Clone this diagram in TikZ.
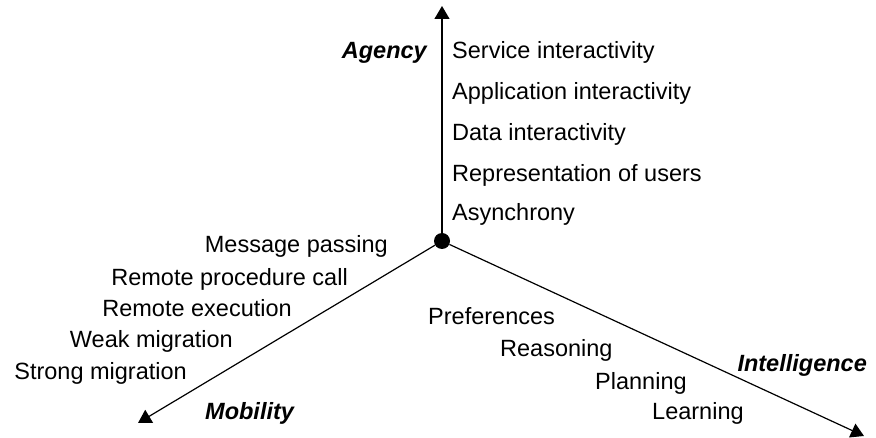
\documentclass[tikz,border=0pt]{standalone}
\usepackage{fontspec}
\setmainfont{Liberation Sans}
\usetikzlibrary{arrows.meta}
\tikzset{
  lbl/.style={inner sep=0pt, font=\fontsize{23.5}{27}\selectfont},
  axislbl/.style={lbl, font=\fontsize{23.5}{27}\selectfont\bfseries\itshape},
  axis/.style={line width=1.2pt, -{Triangle[length=13pt,width=15pt]}},
}
\begin{document}
\begin{tikzpicture}[x=1pt,y=-1pt]
\useasboundingbox (0,0) rectangle (876,438);
\node[circle, fill, inner sep=0pt, minimum size=16pt] (o) at (442,241) {};
\coordinate (ta) at (442,6);
\coordinate (tm) at (138,423);
\coordinate (ti) at (864,436);
\draw[axis] (o) -- (ta);
\draw[axis] (o) -- (tm);
\draw[axis] (o) -- (ti);
% Agency
\node[axislbl, anchor=base east] (agency) at (427,59) {Agency};
\node[lbl, anchor=base west] (a1) at (452,59) {Service interactivity};
\node[lbl, anchor=base west] (a2) at (452,100) {Application interactivity};
\node[lbl, anchor=base west] (a3) at (452,141) {Data interactivity};
\node[lbl, anchor=base west] (a4) at (452,182) {Representation of users};
\node[lbl, anchor=base west] (a5) at (452,221) {Asynchrony};
% Mobility
\node[lbl, anchor=base east] (m1) at (388,253) {Message passing};
\node[lbl, anchor=base east] (m2) at (348,286) {Remote procedure call};
\node[lbl, anchor=base east] (m3) at (292,317) {Remote execution};
\node[lbl, anchor=base east] (m4) at (233,348) {Weak migration};
\node[lbl, anchor=base east] (m5) at (187,380) {Strong migration};
\node[axislbl, anchor=base west] (mobility) at (205,419) {Mobility};
% Intelligence
\node[lbl, anchor=base west] (i1) at (428,325) {Preferences};
\node[lbl, anchor=base west] (i2) at (500,357) {Reasoning};
\node[lbl, anchor=base west] (i3) at (595,389) {Planning};
\node[lbl, anchor=base west] (i4) at (652,420) {Learning};
\node[axislbl, anchor=base east] (intel) at (867,372) {Intelligence};
\end{tikzpicture}
\end{document}
